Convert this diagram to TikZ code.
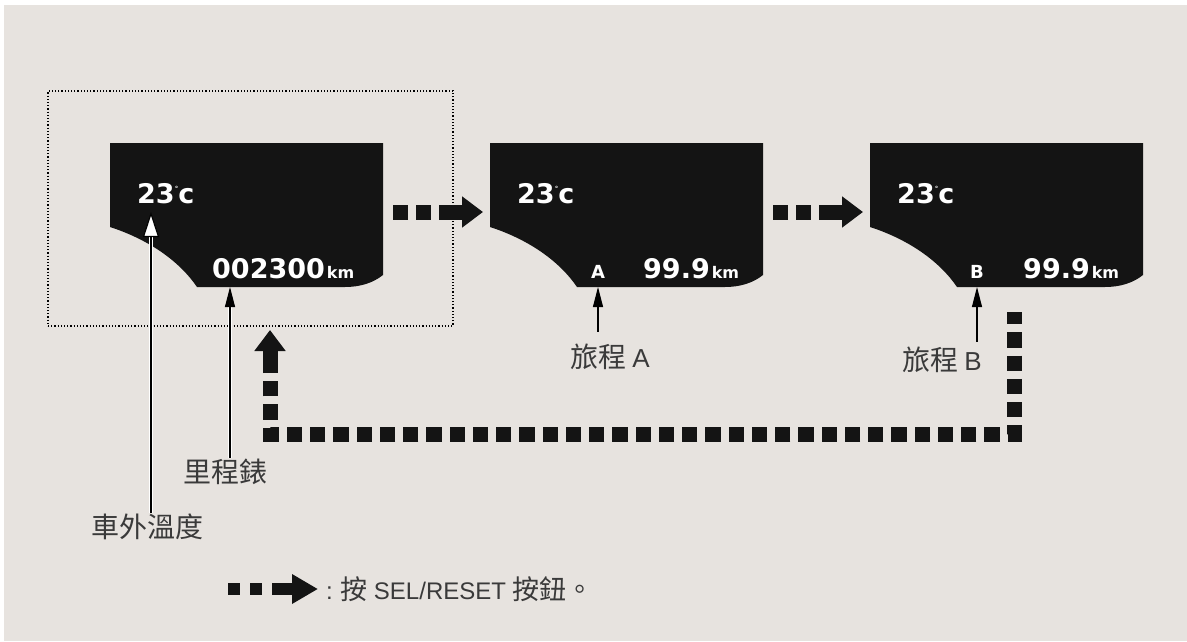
\documentclass[tikz,border=0pt]{standalone}
\usepackage{fontspec}
\setmainfont{Liberation Sans}
\newfontfamily\cjk{Noto Sans CJK TC}
\newfontfamily\lcdfont{DejaVu Sans}
\usepackage{xcolor}
\usetikzlibrary{arrows.meta}
\definecolor{panel}{HTML}{E7E3DF}
\definecolor{lcdblack}{HTML}{141414}
\definecolor{labelgray}{HTML}{3A3A3A}
% black display outline, #1 = left edge
\newcommand{\lcdpanel}[1]{%
  \fill[lcdblack] (#1,143) -- (#1+273,143) -- (#1+273,275)
    .. controls (#1+263,283) and (#1+250,287) .. (#1+235,287) -- (#1+87,287)
    .. controls (#1+70,262) and (#1+40,240) .. (#1,227) -- cycle;}
\newcommand{\kmtxt}{{\fontsize{16}{16}\selectfont km}}
\newcommand{\degc}{23\raisebox{12pt}{\fontsize{7}{7}\selectfont °}c}

\begin{document}
\begin{tikzpicture}[x=1pt,y=-1pt,
  lcdtxt/.style={text=white,font=\lcdfont\bfseries\fontsize{27}{27}\selectfont,inner sep=0pt},
  lbl/.style={text=labelgray,font=\cjk\fontsize{28}{28}\selectfont,inner sep=1pt},
  halo/.style={white,line width=4pt},
  pointer/.style={black,line width=1.1pt,-{Triangle[length=20pt,width=10pt]}},
  bigstep/.style={lcdblack,line width=15pt},
  bighead/.style={-{Triangle[length=21pt,width=30pt]}}]
\useasboundingbox (0,0) rectangle (1187,641);
\fill[white] (0,0) rectangle (1187,641);
\fill[panel] (4,5) rectangle (1187,641);

% displays
\lcdpanel{110}
\lcdpanel{490}
\lcdpanel{870}
\node[lcdtxt,anchor=base west] (temp1) at (137,203) {\degc};
\node[lcdtxt,anchor=base west] (temp2) at (517,203) {\degc};
\node[lcdtxt,anchor=base west] (temp3) at (897,203) {\degc};
\node[lcdtxt,anchor=base west] (odo) at (212,278) {002300\kern2pt\kmtxt};
\node[lcdtxt,anchor=base,font=\lcdfont\bfseries\fontsize{18}{18}\selectfont] (tripA) at (598,278) {A};
\node[lcdtxt,anchor=base west] (distA) at (643,278) {99.9\kern2pt\kmtxt};
\node[lcdtxt,anchor=base,font=\lcdfont\bfseries\fontsize{18}{18}\selectfont] (tripB) at (977,278) {B};
\node[lcdtxt,anchor=base west] (distB) at (1023,278) {99.9\kern2pt\kmtxt};

% dotted frame round the first display
\node[draw,line width=1.2pt,dash pattern=on 1.2pt off 2pt,minimum width=405pt,minimum height=235pt,inner sep=0pt] (box) at (250.5,208.5) {};

% labels
\node[lbl] (tempLbl) at (147,527) {車外溫度};
\node[lbl] (odoLbl) at (225,472) {里程錶};
\node[lbl] (tripALbl) at (610,357) {旅程 {\normalfont\fontsize{26}{26}\selectfont A}};
\node[lbl] (tripBLbl) at (942,360) {旅程 {\normalfont\fontsize{26}{26}\selectfont B}};

% pointers
\coordinate (tempTip) at (151,212);
\coordinate (odoTip) at (230,287);
\coordinate (tripATip) at (598,287);
\coordinate (tripBTip) at (977,287);
\draw[halo] (tempLbl.north -| tempTip) -- ([yshift=-25pt]tempTip);
\draw[halo] (odoLbl.north -| odoTip) -- ([yshift=-20pt]odoTip);
\draw[black,line width=1.1pt,-{Triangle[open,fill=white,length=25pt,width=16pt]}] (tempLbl.north -| tempTip) -- (tempTip);
\draw[pointer] (odoLbl.north -| odoTip) -- (odoTip);
\draw[pointer] ([yshift=11pt]tripALbl.north -| tripATip) -- (tripATip);
\draw[pointer] ([yshift=4pt]tripBLbl.north -| tripBTip) -- (tripBTip);

% SEL/RESET steps
\coordinate (go1) at (393,212);
\coordinate (in2) at (483,212);
\coordinate (go2) at (773,212);
\coordinate (in3) at (863,212);
\draw[bigstep,bighead,dash pattern=on 15pt off 8pt on 15pt off 8pt on 40pt off 0pt] (go1) -- (in2);
\draw[bigstep,bighead,dash pattern=on 15pt off 8pt on 15pt off 8pt on 40pt off 0pt] (go2) -- (in3);
\coordinate (back3) at (1014,312);
\coordinate (backL) at (270,434);
\coordinate (backUp) at (270,380);
\coordinate (backTip) at (270,330);
\draw[bigstep,line join=miter,dash pattern=on 15.25pt off 8pt,dash phase=3pt] (back3) |- (backL) -- (backUp);
\draw[bigstep,bighead] ([yshift=7pt]backUp) -- (backTip);

% legend
\coordinate (keyA) at (228,589);
\coordinate (keyB) at (318,589);
\draw[lcdblack,line width=12pt,dash pattern=on 12pt off 10pt on 12pt off 10pt on 60pt off 0pt,-{Triangle[length=26pt,width=28pt]}] (keyA) -- (keyB);
\node[lbl,anchor=west,font=\cjk\fontsize{27}{27}\selectfont] (keyTxt) at (325,589) {{\normalfont\fontsize{24}{24}\selectfont :} 按 {\normalfont\fontsize{24}{24}\selectfont SEL/RESET} 按鈕。};
\end{tikzpicture}
\end{document}
